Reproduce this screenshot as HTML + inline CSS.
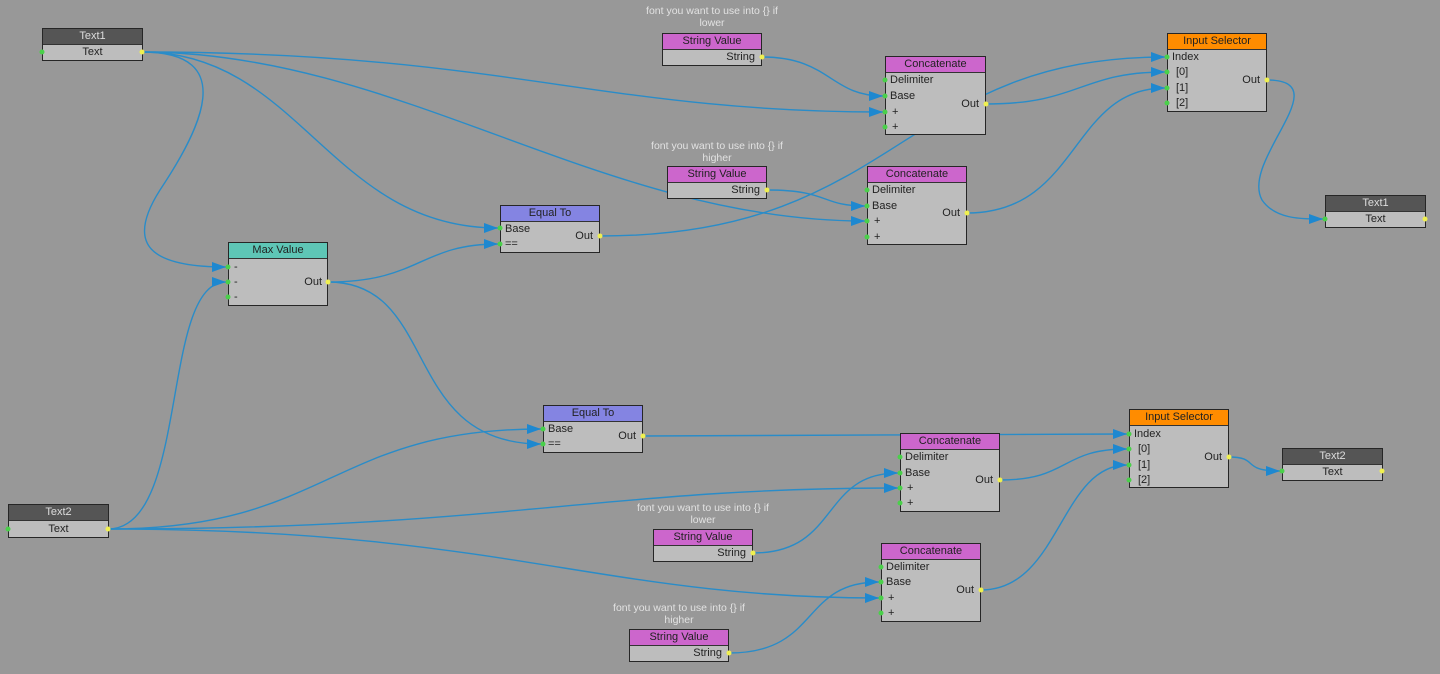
<!DOCTYPE html>
<html><head><meta charset="utf-8"><style>
body{margin:0;width:1440px;height:674px;background:#989898;overflow:hidden;position:relative;font-family:"Liberation Sans",sans-serif;}
.n{position:absolute;background:#bdbdbd;border:1px solid #262626;box-sizing:border-box;font-size:11px;color:#222;}
.h{height:15px;line-height:15px;text-align:center;border-bottom:1px solid #333;}
.r{position:absolute;font-size:11px;line-height:13px;color:#222;}
.lab{position:absolute;font-size:10.5px;color:#e2e2e2;text-align:center;width:180px;line-height:12px;}
svg{position:absolute;left:0;top:0;}
</style></head><body>
<svg width="1440" height="674" viewBox="0 0 1440 674">
<defs><marker id="a" markerWidth="14" markerHeight="10" refX="14" refY="5" orient="auto" markerUnits="userSpaceOnUse"><path d="M0,0 L14,5 L0,10 z" fill="#1e88d0"/></marker></defs>
<g fill="none" stroke="#2a8cc8" stroke-width="1.4" marker-end="url(#a)">
<path d="M142,52 C240,52 200,130 160,190 C125,245 150,267 226,267"/>
<path d="M142,52 C500,52 600,112 883,112"/>
<path d="M142,52 C400,52 600,221 865,221"/>
<path d="M142,52 C300,52 330,228 498,228"/>
<path d="M108,529 C190,529 160,282 226,282"/>
<path d="M108,529 C330,529 330,429 541,429"/>
<path d="M108,529 C500,529 600,488 898,488"/>
<path d="M108,529 C500,529 600,598 879,598"/>
<path d="M328,282 C420,282 420,244 498,244"/>
<path d="M328,282 C440,282 400,444 541,444"/>
<path d="M600,236 C900,236 900,57 1165,57"/>
<path d="M643,436 C900,436 900,434 1127,434"/>
<path d="M762,57 C830,57 830,96 883,96"/>
<path d="M767,190 C830,190 820,206 865,206"/>
<path d="M753,553 C840,553 820,473 898,473"/>
<path d="M729,653 C820,653 800,582 879,582"/>
<path d="M986,104 C1080,104 1080,72 1165,72"/>
<path d="M967,213 C1080,213 1070,88 1165,88"/>
<path d="M1000,480 C1070,480 1060,449 1127,449"/>
<path d="M981,590 C1060,590 1060,465 1127,465"/>
<path d="M1267,80 C1340,80 1240,160 1262,200 C1275,219 1300,219 1323,219"/>
<path d="M1229,457 C1260,457 1240,471 1280,471"/>
</g>
</svg>

<!-- Text nodes -->
<div class="n" style="left:42px;top:28px;width:101px;height:33px;"><div class="h" style="background:#555;color:#ddd">Text1</div><div style="text-align:center;line-height:15px">Text</div></div>
<div class="n" style="left:8px;top:504px;width:101px;height:34px;"><div class="h" style="background:#555;color:#ddd">Text2</div><div style="text-align:center;line-height:16px">Text</div></div>
<div class="n" style="left:1325px;top:195px;width:101px;height:33px;"><div class="h" style="background:#555;color:#ddd">Text1</div><div style="text-align:center;line-height:15px">Text</div></div>
<div class="n" style="left:1282px;top:448px;width:101px;height:33px;"><div class="h" style="background:#555;color:#ddd">Text2</div><div style="text-align:center;line-height:15px">Text</div></div>

<!-- Max Value -->
<div class="n" style="left:228px;top:242px;width:100px;height:64px;"><div class="h" style="background:#5ec6b6">Max Value</div>
<div class="r" style="left:5px;top:18px">-</div><div class="r" style="left:5px;top:33px">-</div><div class="r" style="left:5px;top:48px">-</div><div class="r" style="right:5px;top:33px">Out</div></div>

<!-- Equal To -->
<div class="n" style="left:500px;top:205px;width:100px;height:48px;"><div class="h" style="background:#8484e2">Equal To</div>
<div class="r" style="left:4px;top:17px">Base</div><div class="r" style="left:4px;top:32px">==</div><div class="r" style="right:6px;top:24px">Out</div></div>
<div class="n" style="left:543px;top:405px;width:100px;height:48px;"><div class="h" style="background:#8484e2">Equal To</div>
<div class="r" style="left:4px;top:17px">Base</div><div class="r" style="left:4px;top:32px">==</div><div class="r" style="right:6px;top:24px">Out</div></div>

<!-- String values -->
<div class="lab" style="left:622px;top:5px">font you want to use into {} if<br>lower</div>
<div class="n" style="left:662px;top:33px;width:100px;height:33px;"><div class="h" style="background:#cc66cc">String Value</div><div style="text-align:right;padding-right:6px;line-height:15px">String</div></div>
<div class="lab" style="left:627px;top:140px">font you want to use into {} if<br>higher</div>
<div class="n" style="left:667px;top:166px;width:100px;height:33px;"><div class="h" style="background:#cc66cc">String Value</div><div style="text-align:right;padding-right:6px;line-height:15px">String</div></div>
<div class="lab" style="left:613px;top:502px">font you want to use into {} if<br>lower</div>
<div class="n" style="left:653px;top:529px;width:100px;height:33px;"><div class="h" style="background:#cc66cc">String Value</div><div style="text-align:right;padding-right:6px;line-height:15px">String</div></div>
<div class="lab" style="left:589px;top:602px">font you want to use into {} if<br>higher</div>
<div class="n" style="left:629px;top:629px;width:100px;height:33px;"><div class="h" style="background:#cc66cc">String Value</div><div style="text-align:right;padding-right:6px;line-height:15px">String</div></div>

<!-- Concatenate -->
<div class="n" style="left:885px;top:56px;width:101px;height:79px;"><div class="h" style="background:#cc66cc">Concatenate</div>
<div class="r" style="left:4px;top:17px">Delimiter</div><div class="r" style="left:4px;top:33px">Base</div><div class="r" style="left:6px;top:49px">+</div><div class="r" style="left:6px;top:64px">+</div><div class="r" style="right:6px;top:41px">Out</div></div>
<div class="n" style="left:867px;top:166px;width:100px;height:79px;"><div class="h" style="background:#cc66cc">Concatenate</div>
<div class="r" style="left:4px;top:17px">Delimiter</div><div class="r" style="left:4px;top:33px">Base</div><div class="r" style="left:6px;top:48px">+</div><div class="r" style="left:6px;top:64px">+</div><div class="r" style="right:6px;top:40px">Out</div></div>
<div class="n" style="left:900px;top:433px;width:100px;height:79px;"><div class="h" style="background:#cc66cc">Concatenate</div>
<div class="r" style="left:4px;top:17px">Delimiter</div><div class="r" style="left:4px;top:33px">Base</div><div class="r" style="left:6px;top:48px">+</div><div class="r" style="left:6px;top:63px">+</div><div class="r" style="right:6px;top:40px">Out</div></div>
<div class="n" style="left:881px;top:543px;width:100px;height:79px;"><div class="h" style="background:#cc66cc">Concatenate</div>
<div class="r" style="left:4px;top:17px">Delimiter</div><div class="r" style="left:4px;top:32px">Base</div><div class="r" style="left:6px;top:48px">+</div><div class="r" style="left:6px;top:63px">+</div><div class="r" style="right:6px;top:40px">Out</div></div>

<!-- Input selectors -->
<div class="n" style="left:1167px;top:33px;width:100px;height:79px;"><div class="h" style="background:#ff8c00">Input Selector</div>
<div class="r" style="left:4px;top:17px">Index</div><div class="r" style="left:8px;top:32px">[0]</div><div class="r" style="left:8px;top:48px">[1]</div><div class="r" style="left:8px;top:63px">[2]</div><div class="r" style="right:6px;top:40px">Out</div></div>
<div class="n" style="left:1129px;top:409px;width:100px;height:79px;"><div class="h" style="background:#ff8c00">Input Selector</div>
<div class="r" style="left:4px;top:18px">Index</div><div class="r" style="left:8px;top:33px">[0]</div><div class="r" style="left:8px;top:49px">[1]</div><div class="r" style="left:8px;top:64px">[2]</div><div class="r" style="right:6px;top:41px">Out</div></div>

<svg width="1440" height="674" viewBox="0 0 1440 674">
<g fill="#4ad04a">
<circle cx="42" cy="52" r="2.5"/><circle cx="8" cy="529" r="2.5"/><circle cx="1325" cy="219" r="2.5"/><circle cx="1282" cy="471" r="2.5"/>
<circle cx="228" cy="267" r="2.5"/><circle cx="228" cy="282" r="2.5"/><circle cx="228" cy="297" r="2.5"/>
<circle cx="500" cy="228" r="2.5"/><circle cx="500" cy="244" r="2.5"/><circle cx="543" cy="429" r="2.5"/><circle cx="543" cy="444" r="2.5"/>
<circle cx="885" cy="80" r="2.5"/><circle cx="885" cy="96" r="2.5"/><circle cx="885" cy="112" r="2.5"/><circle cx="885" cy="127" r="2.5"/>
<circle cx="867" cy="190" r="2.5"/><circle cx="867" cy="206" r="2.5"/><circle cx="867" cy="221" r="2.5"/><circle cx="867" cy="237" r="2.5"/>
<circle cx="900" cy="457" r="2.5"/><circle cx="900" cy="473" r="2.5"/><circle cx="900" cy="488" r="2.5"/><circle cx="900" cy="503" r="2.5"/>
<circle cx="881" cy="567" r="2.5"/><circle cx="881" cy="582" r="2.5"/><circle cx="881" cy="598" r="2.5"/><circle cx="881" cy="613" r="2.5"/>
<circle cx="1167" cy="57" r="2.5"/><circle cx="1167" cy="72" r="2.5"/><circle cx="1167" cy="88" r="2.5"/><circle cx="1167" cy="103" r="2.5"/>
<circle cx="1129" cy="434" r="2.5"/><circle cx="1129" cy="449" r="2.5"/><circle cx="1129" cy="465" r="2.5"/><circle cx="1129" cy="480" r="2.5"/>
</g>
<g fill="#f0f050">
<circle cx="142" cy="52" r="2.5"/><circle cx="108" cy="529" r="2.5"/><circle cx="1425" cy="219" r="2.5"/><circle cx="1382" cy="471" r="2.5"/>
<circle cx="328" cy="282" r="2.5"/><circle cx="600" cy="236" r="2.5"/><circle cx="643" cy="436" r="2.5"/>
<circle cx="762" cy="57" r="2.5"/><circle cx="767" cy="190" r="2.5"/><circle cx="753" cy="553" r="2.5"/><circle cx="729" cy="653" r="2.5"/>
<circle cx="986" cy="104" r="2.5"/><circle cx="967" cy="213" r="2.5"/><circle cx="1000" cy="480" r="2.5"/><circle cx="981" cy="590" r="2.5"/>
<circle cx="1267" cy="80" r="2.5"/><circle cx="1229" cy="457" r="2.5"/>
</g>
</svg>
</body></html>
